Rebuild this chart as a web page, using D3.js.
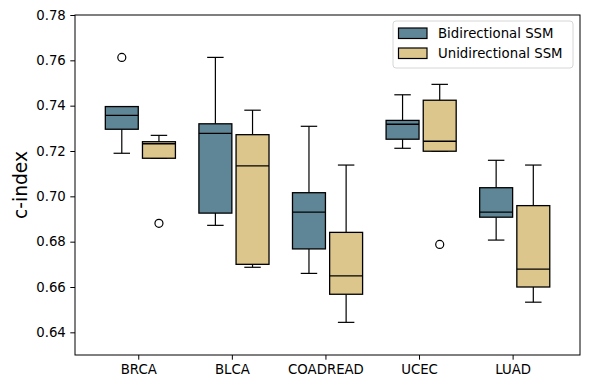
<!DOCTYPE html>
<html>
<head>
<meta charset="utf-8">
<script src="https://cdn.jsdelivr.net/npm/d3@7"></script>
<style>
  body { margin: 0; background: #fff; }
  text { font-family: "DejaVu Sans", sans-serif; }
</style>
</head>
<body>
<script>
// categories and series
var categories = ["BRCA", "BLCA", "COADREAD", "UCEC", "LUAD"];
var seriesNames = ["Bidirectional SSM", "Unidirectional SSM"];
var colors = ["#5f8696", "#dcc68c"];

// box stats per category: [lowWhisker, q1, median, q3, highWhisker]
var bidirectional = [
  [0.7190, 0.7296, 0.7357, 0.7396, 0.7396],
  [0.6872, 0.6926, 0.7278, 0.7320, 0.7613],
  [0.6660, 0.6768, 0.6930, 0.7016, 0.7309],
  [0.7212, 0.7252, 0.7318, 0.7335, 0.7448],
  [0.6807, 0.6908, 0.6930, 0.7038, 0.7159]
];
var unidirectional = [
  [0.7168, 0.7168, 0.7232, 0.7241, 0.7269],
  [0.6687, 0.6700, 0.7134, 0.7272, 0.7380],
  [0.6444, 0.6568, 0.6649, 0.6841, 0.7138],
  [0.7199, 0.7199, 0.7243, 0.7424, 0.7494],
  [0.6533, 0.6600, 0.6679, 0.6959, 0.7138]
];
// outliers: [categoryIndex, value]
var bidiOutliers = [[0, 0.7613]];
var uniOutliers = [[0, 0.6881], [3, 0.6788]];

var yTicks = [0.64, 0.66, 0.68, 0.70, 0.72, 0.74, 0.76, 0.78];

// layout
var W = 590, H = 389;
var margin = {top: 15, right: 10, bottom: 34, left: 75};
var fs = 13.3;

var svg = d3.select("body").append("svg")
    .attr("width", W)
    .attr("height", H);

var x = d3.scaleLinear()
    .domain([-0.676, 4.72])
    .range([margin.left, W - margin.right]);

var y = d3.scaleLinear()
    .domain([0.63, 0.78])
    .range([H - margin.bottom, margin.top]);

// box offsets in category units
var offsets = [[-0.352, 0.0], [0.045, 0.397]];

var series = [bidirectional, unidirectional];
var outliers = [bidiOutliers, uniOutliers];

series.forEach(function(data, s) {
  var g = svg.append("g").attr("class", "series-" + s);
  var groups = g.selectAll("g.box")
    .data(data)
    .enter().append("g")
    .attr("class", "box");

  groups.each(function(d, i) {
    var gb = d3.select(this);
    var x0 = x(i + offsets[s][0]), x1 = x(i + offsets[s][1]);
    var xm = (x0 + x1) / 2;
    var capW = (x1 - x0) / 4;

    // whiskers
    gb.append("line")
      .attr("x1", xm).attr("x2", xm)
      .attr("y1", y(d[0])).attr("y2", y(d[1]))
      .attr("stroke", "#000").attr("stroke-width", 1.2);
    gb.append("line")
      .attr("x1", xm).attr("x2", xm)
      .attr("y1", y(d[3])).attr("y2", y(d[4]))
      .attr("stroke", "#000").attr("stroke-width", 1.2);
    // caps
    [d[0], d[4]].forEach(function(v) {
      gb.append("line")
        .attr("x1", xm - capW).attr("x2", xm + capW)
        .attr("y1", y(v)).attr("y2", y(v))
        .attr("stroke", "#000").attr("stroke-width", 1.2);
    });
    // box
    gb.append("rect")
      .attr("x", x0).attr("width", x1 - x0)
      .attr("y", y(d[3])).attr("height", y(d[1]) - y(d[3]))
      .attr("fill", colors[s])
      .attr("stroke", "#000").attr("stroke-width", 1.3);
    // median
    gb.append("line")
      .attr("x1", x0).attr("x2", x1)
      .attr("y1", y(d[2])).attr("y2", y(d[2]))
      .attr("stroke", "#000").attr("stroke-width", 1.3);
  });

  // fliers
  g.selectAll("circle")
    .data(outliers[s])
    .enter().append("circle")
    .attr("cx", function(d) { return x(d[0] + (offsets[s][0] + offsets[s][1]) / 2); })
    .attr("cy", function(d) { return y(d[1]); })
    .attr("r", 4)
    .attr("fill", "none")
    .attr("stroke", "#000")
    .attr("stroke-width", 1.2);
});

// axes
var yAxis = d3.axisLeft(y)
    .tickValues(yTicks)
    .tickFormat(d3.format(".2f"))
    .tickSizeOuter(0)
    .tickSize(4.7)
    .tickPadding(4.5);

var xAxis = d3.axisBottom(x)
    .tickValues(d3.range(categories.length))
    .tickFormat(function(i) { return categories[i]; })
    .tickSizeOuter(0)
    .tickSize(4.7)
    .tickPadding(4.5);

var gy = svg.append("g")
    .attr("transform", "translate(" + margin.left + ",0)")
    .call(yAxis);
var gx = svg.append("g")
    .attr("transform", "translate(0," + (H - margin.bottom) + ")")
    .call(xAxis);

[gx, gy].forEach(function(g) {
  g.select(".domain").remove();
  g.selectAll("text").attr("font-size", fs).attr("fill", "#000")
    .style("font-family", "DejaVu Sans, sans-serif");
  g.selectAll("line").attr("stroke", "#000");
});

// frame
svg.append("rect")
  .attr("x", margin.left).attr("y", margin.top)
  .attr("width", W - margin.right - margin.left)
  .attr("height", H - margin.bottom - margin.top)
  .attr("fill", "none").attr("stroke", "#000").attr("stroke-width", 1);

// y label
svg.append("text")
  .attr("transform", "translate(27," + (margin.top + (H - margin.bottom - margin.top) / 2) + ") rotate(-90)")
  .attr("text-anchor", "middle")
  .attr("font-size", 18.7)
  .text("c-index");

// legend
var legend = svg.append("g").attr("transform", "translate(393,21)");
legend.append("rect")
  .attr("width", 180).attr("height", 47)
  .attr("rx", 3)
  .attr("fill", "#fff").attr("fill-opacity", 0.8)
  .attr("stroke", "#d6d6d6").attr("stroke-width", 1);

var items = legend.selectAll("g.item")
  .data(seriesNames)
  .enter().append("g")
  .attr("class", "item")
  .attr("transform", function(d, i) { return "translate(5.5," + (7 + i * 20) + ")"; });

items.append("rect")
  .attr("width", 28.5).attr("height", 10.5)
  .attr("fill", function(d, i) { return colors[i]; })
  .attr("stroke", "#000").attr("stroke-width", 1.2);

items.append("text")
  .attr("x", 39.5).attr("y", 10.3)
  .attr("font-size", fs)
  .text(function(d) { return d; });
</script>
</body>
</html>
